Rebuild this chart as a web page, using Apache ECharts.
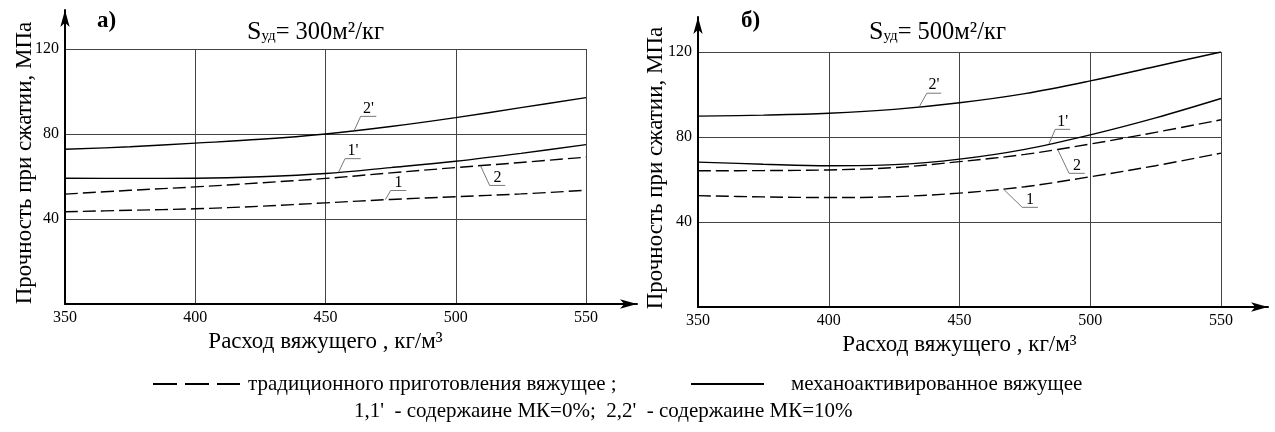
<!DOCTYPE html>
<html>
<head>
<meta charset="utf-8">
<script src="https://cdn.jsdelivr.net/npm/echarts@6/dist/echarts.min.js"></script>
<style>
html, body { margin: 0; background: #fff; }
#main { width: 1275px; height: 432px; }
</style>
</head>
<body>
<div id="main"></div>
<script>
// расход вяжущего, кг/м3
var xs = [350, 375, 400, 425, 450, 475, 500, 525, 550];

// а) Sуд = 300 м2/кг
var a_1  = [43.4, 44.1, 44.8, 46.0, 47.6, 49.2, 50.5, 51.8, 53.5];
var a_2  = [51.7, 53.5, 55.1, 57.0, 59.1, 61.7, 64.2, 66.6, 69.1];
var a_1p = [59.2, 59.1, 59.2, 59.9, 61.4, 64.2, 67.2, 70.9, 75.0];
var a_2p = [72.8, 74.0, 75.7, 77.5, 80.0, 83.5, 87.7, 92.4, 97.1];

// б) Sуд = 500 м2/кг
var b_1  = [52.4, 51.8, 51.5, 51.9, 53.6, 56.6, 61.3, 66.5, 72.4];
var b_2  = [64.1, 64.2, 64.5, 65.6, 68.4, 71.8, 76.7, 82.2, 88.1];
var b_1p = [68.2, 67.2, 66.5, 67.0, 69.6, 74.2, 81.0, 89.0, 98.1];
var b_2p = [89.8, 90.3, 91.2, 93.0, 96.1, 100.4, 106.4, 113.2, 120.0];

// выноски: [подпись, точка на кривой, излом, конец полочки]
var a_notes = [
    ["2'", [461, 81.6], [463.5, 88.3], [469.5, 88.3]],
    ["1'", [455, 62.0], [457.5, 68.4], [463.5, 68.4]],
    ["2",  [509.5, 65.1], [513, 55.8], [519, 55.8]],
    ["1",  [473, 49.1], [475, 53.4], [481, 53.4]]
];
var b_notes = [
    ["2'", [434.6, 94.2], [437.5, 100.6], [443, 100.6]],
    ["1'", [484.2, 76.7], [486.6, 83.6], [492.3, 83.6]],
    ["2",  [487.5, 74.2], [491.9, 62.9], [497.9, 62.9]],
    ["1",  [466.7, 55.6], [474, 46.9], [480, 46.9]]
];

var xTicks = { min: 350, max: 550, interval: 50 };
var yTicks = { min: 0, max: 120, interval: 40 };

var FONT = '"Liberation Serif", "DejaVu Serif", serif';

function pairs(vals) {
    return xs.map(function (x, i) { return [x, vals[i]]; });
}

function curve(vals, idx, dashed) {
    return {
        type: 'line',
        xAxisIndex: idx,
        yAxisIndex: idx,
        data: pairs(vals),
        smooth: 0.35,
        showSymbol: false,
        silent: true,
        lineStyle: { color: '#000', width: 1.4, type: dashed ? [13, 5] : 'solid' }
    };
}

function leader(note, idx) {
    var mid = (note[2][0] + note[3][0]) / 2;
    return {
        type: 'line',
        xAxisIndex: idx,
        yAxisIndex: idx,
        data: [note[1], note[2], note[3]],
        showSymbol: false,
        silent: true,
        lineStyle: { color: '#555', width: 0.8 },
        markPoint: {
            symbol: 'circle',
            symbolSize: 0,
            data: [{ coord: [mid, note[2][1]] }],
            label: {
                show: true,
                position: 'top',
                distance: 0,
                formatter: note[0],
                color: '#000',
                fontFamily: FONT,
                fontSize: 16
            }
        }
    };
}

function dataX(idx) {
    return {
        type: 'value', gridIndex: idx,
        min: xTicks.min, max: xTicks.max, interval: xTicks.interval,
        axisLine: { show: false },
        axisTick: { show: false },
        axisLabel: { color: '#000', fontFamily: FONT, fontSize: 16, margin: 6 },
        splitLine: { show: true, lineStyle: { color: '#444', width: 1 } },
        name: 'Расход вяжущего , кг/м³',
        nameLocation: 'middle',
        nameGap: 25,
        nameTextStyle: { color: '#000', fontFamily: FONT, fontSize: 23 }
    };
}

function dataY(idx) {
    return {
        type: 'value', gridIndex: idx,
        min: yTicks.min, max: yTicks.max, interval: yTicks.interval,
        axisLine: { show: false },
        axisTick: { show: false },
        axisLabel: { color: '#000', fontFamily: FONT, fontSize: 16, margin: 6, showMinLabel: false },
        splitLine: { show: true, lineStyle: { color: '#444', width: 1 } }
    };
}

// рамочные оси со стрелками
function frameX(idx) {
    return {
        type: 'value', gridIndex: idx, min: 0, max: 1,
        axisLine: { show: true, onZero: false, symbol: ['none', 'arrow'], symbolSize: [7, 17],
                    lineStyle: { color: '#000', width: 2 } },
        axisTick: { show: false }, axisLabel: { show: false }, splitLine: { show: false }
    };
}

function frameY(idx, gap) {
    return {
        type: 'value', gridIndex: idx, min: 0, max: 1,
        axisLine: { show: true, onZero: false, symbol: ['none', 'arrow'], symbolSize: [7, 17],
                    lineStyle: { color: '#000', width: 2 } },
        axisTick: { show: false }, axisLabel: { show: false }, splitLine: { show: false },
        name: 'Прочность при сжатии, МПа',
        nameLocation: 'middle',
        nameGap: gap,
        nameTextStyle: { color: '#000', fontFamily: FONT, fontSize: 23, padding: [0, 12, 0, 0] }
    };
}

function sTitle(x, val) {
    return {
        type: 'text', x: x, y: 31,
        style: {
            text: '{s|S}{u|уд}{n|= ' + val + 'м²/кг}',
            verticalAlign: 'middle',
            fill: '#000',
            rich: {
                s: { fontFamily: FONT, fontSize: 26, lineHeight: 28, verticalAlign: 'bottom' },
                u: { fontFamily: FONT, fontSize: 15, lineHeight: 28, verticalAlign: 'bottom', padding: [0, 0, 1, 0] },
                n: { fontFamily: FONT, fontSize: 24.5, lineHeight: 28, verticalAlign: 'bottom' }
            }
        }
    };
}

var series = [
    curve(a_1, 0, true), curve(a_2, 0, true), curve(a_1p, 0, false), curve(a_2p, 0, false),
    curve(b_1, 1, true), curve(b_2, 1, true), curve(b_1p, 1, false), curve(b_2p, 1, false)
];
a_notes.forEach(function (n) { series.push(leader(n, 0)); });
b_notes.forEach(function (n) { series.push(leader(n, 1)); });

var option = {
    backgroundColor: '#fff',
    animation: false,
    grid: [
        { left: 65, top: 49, width: 521, height: 255 },
        { left: 698, top: 52, width: 523, height: 255 },
        { left: 65, top: 10, width: 572, height: 294 },
        { left: 698, top: 17, width: 570, height: 290 }
    ],
    xAxis: [dataX(0), dataX(1), frameX(2), frameX(3)],
    yAxis: [dataY(0), dataY(1), frameY(2, 29), frameY(3, 31)],
    series: series,
    graphic: [
        { type: 'text', x: 97, y: 21, style: { text: 'а)', font: 'bold 23px ' + FONT, fill: '#000', verticalAlign: 'middle' } },
        { type: 'text', x: 741, y: 21, style: { text: 'б)', font: 'bold 23px ' + FONT, fill: '#000', verticalAlign: 'middle' } },
        sTitle(247, 300),
        sTitle(869, 500),
        { type: 'line', shape: { x1: 153, y1: 384, x2: 240, y2: 384 },
          style: { stroke: '#000', lineWidth: 1.8, lineDash: [24, 8] } },
        { type: 'text', x: 248, y: 384,
          style: { text: 'традиционного приготовления вяжущее ;', font: '21px ' + FONT, fill: '#000', verticalAlign: 'middle' } },
        { type: 'line', shape: { x1: 691, y1: 384, x2: 764, y2: 384 },
          style: { stroke: '#000', lineWidth: 1.8 } },
        { type: 'text', x: 791, y: 384,
          style: { text: 'механоактивированное вяжущее', font: '21px ' + FONT, fill: '#000', verticalAlign: 'middle' } },
        { type: 'text', x: 354, y: 411,
          style: { text: "1,1'  - содержаине МК=0%;  2,2'  - содержаине МК=10%", font: '21px ' + FONT, fill: '#000', verticalAlign: 'middle' } }
    ]
};

var myChart = echarts.init(document.getElementById('main'));
myChart.setOption(option);
</script>
</body>
</html>
